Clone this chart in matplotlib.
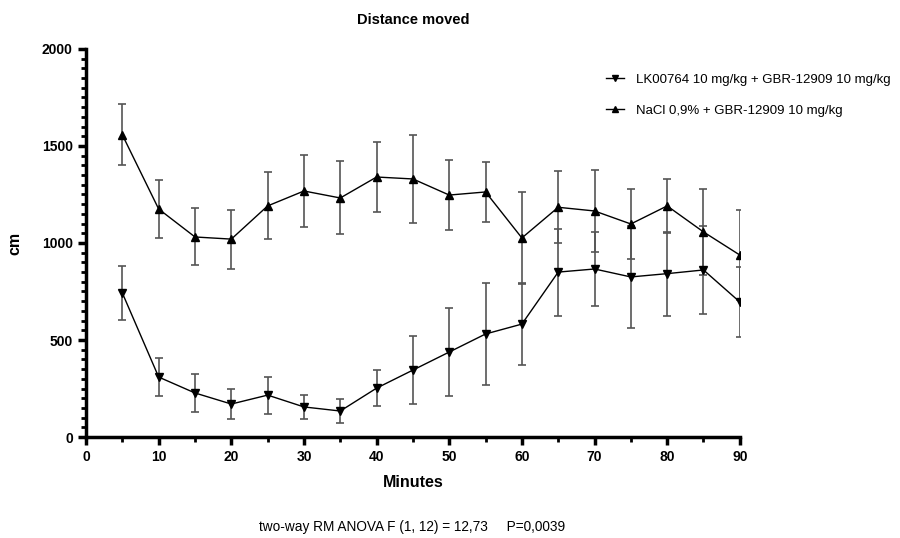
import matplotlib.pyplot as plt
from matplotlib.ticker import MultipleLocator

plt.rcParams['font.family'] = ['Liberation Sans', 'DejaVu Sans']

minutes = [5, 10, 15, 20, 25, 30, 35, 40, 45, 50, 55, 60, 65, 70, 75, 80, 85, 90]

# LK00764 + GBR-12909 (mean, SEM)
lk_mean = [742, 309, 227, 170, 216, 155, 134, 252, 345, 438, 531, 582, 850, 866, 825, 842, 861, 696]
lk_sem = [137, 100, 97, 75, 95, 60, 62, 93, 175, 225, 262, 212, 224, 191, 263, 217, 225, 180]

# NaCl + GBR-12909 (mean, SEM)
nacl_mean = [1557, 1175, 1031, 1020, 1191, 1268, 1232, 1340, 1330, 1247, 1263, 1026, 1184, 1165, 1098, 1191, 1057, 938]
nacl_sem = [157, 148, 147, 152, 173, 186, 188, 181, 227, 180, 155, 237, 185, 210, 182, 139, 221, 232]

lk_label = "LK00764 10 mg/kg + GBR-12909 10 mg/kg"
nacl_label = "NaCl 0,9% + GBR-12909 10 mg/kg"

fig = plt.figure(figsize=(9, 5.38), dpi=100)
ax = fig.add_axes([0.0956, 0.1877, 0.7264, 0.7213])

err_kw = dict(ecolor='#555555', elinewidth=1.2, capsize=3, capthick=1.2)
ax.errorbar(minutes, lk_mean, yerr=lk_sem, color='black', lw=1, marker='v',
            markersize=5.5, label=lk_label, **err_kw)
ax.errorbar(minutes, nacl_mean, yerr=nacl_sem, color='black', lw=1, marker='^',
            markersize=5.5, label=nacl_label, **err_kw)

ax.set_xlim(0, 90)
ax.set_ylim(0, 2000)
ax.xaxis.set_major_locator(MultipleLocator(10))
ax.xaxis.set_minor_locator(MultipleLocator(5))
ax.yaxis.set_major_locator(MultipleLocator(500))
ax.yaxis.set_minor_locator(MultipleLocator(50))

for s in ['top', 'right']:
    ax.spines[s].set_visible(False)
for s in ['left', 'bottom']:
    ax.spines[s].set_linewidth(2.5)
ax.tick_params(which='major', length=6, width=2.5, labelsize=10)
ax.tick_params(which='minor', length=3.5, width=2)
for lbl in ax.get_xticklabels() + ax.get_yticklabels():
    lbl.set_fontweight('bold')

ax.set_xlabel("Minutes", fontsize=11.5, fontweight='bold', labelpad=8)
ax.set_ylabel("cm", fontsize=11.5, fontweight='bold', labelpad=14)
ax.set_title("Distance moved", fontsize=10.5, fontweight='bold', pad=18)

handles, labels = ax.get_legend_handles_labels()
handles = [h[0] for h in handles]
fig.legend(handles, labels, loc='upper left', bbox_to_anchor=(0.66, 0.885),
           frameon=False, fontsize=9.5, handlelength=1.4, handletextpad=0.9,
           labelspacing=1.4, markerscale=0.9)

fig.text(0.458, 0.008, "two-way RM ANOVA F (1, 12) = 12,73     P=0,0039",
         ha='center', va='bottom', fontsize=9.8)

fig.savefig("out.png", dpi=100)
